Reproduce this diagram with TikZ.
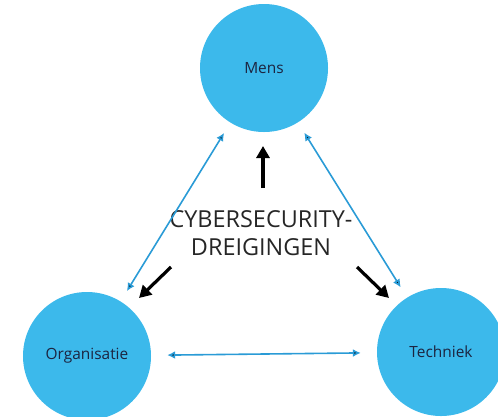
\documentclass[tikz,border=0pt]{standalone}
\usepackage{fontspec}
\setmainfont{Open Sans}
\usetikzlibrary{arrows.meta}
\definecolor{bubble}{HTML}{3CB9EB}
\definecolor{linkblue}{HTML}{2A9BD6}
\definecolor{navy}{HTML}{1C2440}
\tikzset{>/.tip={Latex[length=8bp,width=8bp]},
  bubble/.style={circle,fill=bubble,minimum size=128bp,inner sep=0pt,text=navy,font=\fontsize{15.5}{18}\selectfont},
  twoway/.style={<->,draw=linkblue,line width=1.6bp,shorten <=12bp,shorten >=12bp},
  threat/.style={-{Triangle[length=12bp,width=13bp]},line width=3.2bp,black}}

\begin{document}
\begin{tikzpicture}[x=1bp,y=-1bp]
\useasboundingbox (0,0) rectangle (498,416);
\node[bubble] (mens) at (264,68) {Mens};
\node[bubble] (org) at (87,356) {Organisatie};
\node[bubble] (tech) at (441,352) {Techniek};

\node[align=center,font=\fontsize{23.5}{28}\selectfont,text=black!85] (dreiging) at (261,233) {CYBERSECURITY-\\DREIGINGEN};

\coordinate (up-s) at (263,188);
\coordinate (up-e) at (263,146);
\coordinate (left-s) at (171,267);
\coordinate (left-e) at (139,298);
\coordinate (right-s) at (357,267);
\coordinate (right-e) at (389,298);

\path[twoway] (org) edge (mens);
\path[twoway] (tech) edge (mens);
\path[twoway,shorten <=16bp,shorten >=16bp] (org) edge (tech);

\draw[threat] (up-s) -- (up-e);
\draw[threat] (left-s) -- (left-e);
\draw[threat] (right-s) -- (right-e);
\end{tikzpicture}
\end{document}
